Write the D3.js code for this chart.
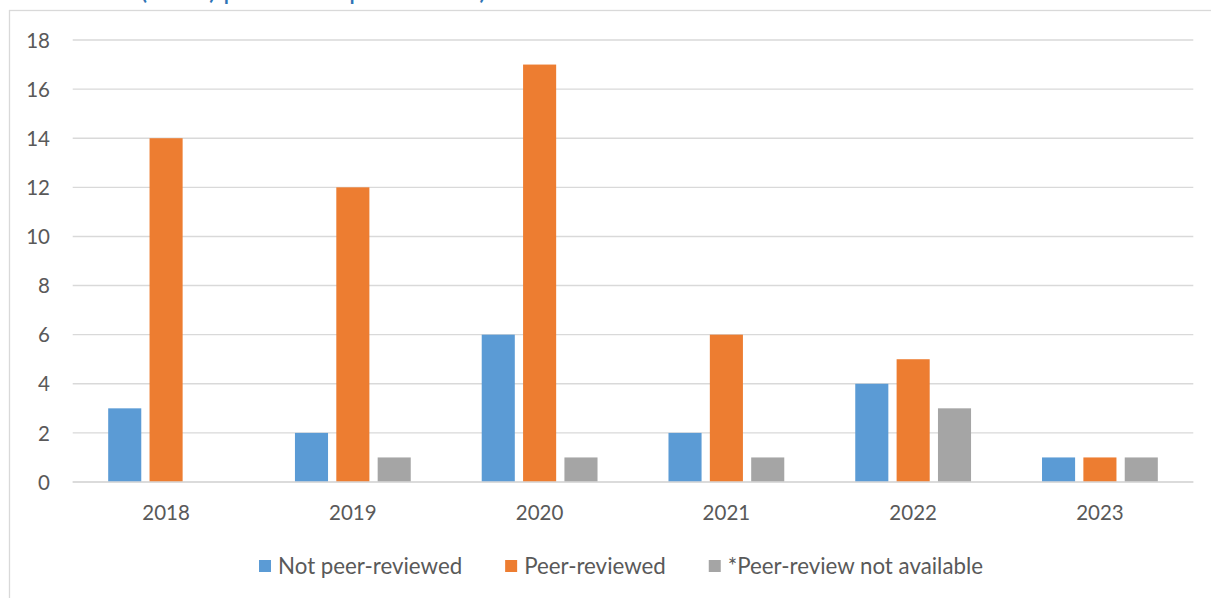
<!DOCTYPE html>
<html>
<head>
<meta charset="utf-8">
<script src="https://cdn.jsdelivr.net/npm/d3@7"></script>
<style>
  html, body { margin: 0; padding: 0; background: #fff; }
  svg { display: block; font-family: Lato, "Open Sans", sans-serif; }
</style>
</head>
<body>
<svg id="chart" width="1211" height="598"></svg>
<script>
// Publications per year, split by peer-review status
const years = ["2018", "2019", "2020", "2021", "2022", "2023"];
const seriesNames = ["Not peer-reviewed", "Peer-reviewed", "*Peer-review not available"];
const notPeerReviewed = [3, 2, 6, 2, 4, 1];
const peerReviewed = [14, 12, 17, 6, 5, 1];
const reviewNotAvailable = [0, 1, 1, 1, 3, 1];
const yTicks = [0, 2, 4, 6, 8, 10, 12, 14, 16, 18];
const colors = ["#5B9BD5", "#ED7D31", "#A5A5A5"];
const titleText = "Publications (n=80) per article peer status)";

const seriesValues = [notPeerReviewed, peerReviewed, reviewNotAvailable];
const rows = years.map((yr, i) => ({
  year: yr,
  values: seriesNames.map((s, k) => ({ series: s, value: seriesValues[k][i], k }))
}));

const svg = d3.select("#chart");
const textColor = "#595959";
const gridColor = "#D9D9D9";

// Title sits above the chart frame; only its descenders fall inside the view
const title = svg.append("text")
  .attr("y", -1)
  .attr("fill", "#2F74B5")
  .attr("font-size", 27)
  .text(titleText);
const openParen = titleText.indexOf("(");
const prefixW = title.node().getSubStringLength(0, openParen);
title.attr("x", 140 - prefixW);

// Chart frame
svg.append("rect")
  .attr("x", 9.5).attr("y", 10.5)
  .attr("width", 1400).attr("height", 800)
  .attr("fill", "none")
  .attr("stroke", gridColor)
  .attr("stroke-width", 1.3);

const plot = { left: 72.7, right: 1193.3, top: 40, bottom: 482 };

const y = d3.scaleLinear().domain([0, 18]).range([plot.bottom, plot.top]);
const x0 = d3.scaleBand().domain(years).range([plot.left, plot.right])
  .paddingInner(0.38).paddingOuter(0.19);
const x1 = d3.scaleBand().domain(seriesNames).range([0, x0.bandwidth()])
  .paddingInner(0.2).paddingOuter(0);

// Horizontal gridlines
svg.append("g").selectAll("line").data(yTicks).join("line")
  .attr("x1", plot.left).attr("x2", plot.right)
  .attr("y1", d => y(d)).attr("y2", d => y(d))
  .attr("stroke", gridColor).attr("stroke-width", 1.4);

// Y axis labels
const yAxis = d3.axisLeft(y).tickValues(yTicks).tickSize(0).tickPadding(0);
const yg = svg.append("g").attr("transform", `translate(50,0)`).call(yAxis);
yg.select(".domain").remove();
yg.selectAll("text").attr("fill", textColor).attr("font-size", 20.5)
  .attr("font-family", "Lato, sans-serif").attr("dy", "0.35em");

// Bars
const groups = svg.append("g").selectAll("g").data(rows).join("g")
  .attr("transform", d => `translate(${x0(d.year)},0)`);
groups.selectAll("rect").data(d => d.values.filter(v => v.value > 0)).join("rect")
  .attr("x", d => x1(d.series))
  .attr("width", x1.bandwidth())
  .attr("y", d => y(d.value))
  .attr("height", d => y(0) - y(d.value))
  .attr("fill", d => colors[d.k]);

// Redraw the zero line on top of the bars
svg.append("line")
  .attr("x1", plot.left).attr("x2", plot.right)
  .attr("y1", y(0)).attr("y2", y(0))
  .attr("stroke", gridColor).attr("stroke-width", 1.4);

// X axis labels
const xAxis = d3.axisBottom(x0).tickSize(0).tickPadding(0);
const xg = svg.append("g").attr("transform", `translate(0,520)`).call(xAxis);
xg.select(".domain").remove();
xg.selectAll("text").attr("fill", textColor).attr("font-size", 20.5)
  .attr("font-family", "Lato, sans-serif").attr("dy", 0)
  .attr("dominant-baseline", "alphabetic");

// Legend
const legend = svg.append("g");
const legendY = 566, sw = 12, textGap = 7, itemGap = 43;
const items = legend.selectAll("g").data(seriesNames).join("g");
items.append("rect")
  .attr("width", sw).attr("height", sw)
  .attr("y", legendY - sw / 2)
  .attr("fill", (d, i) => colors[i]);
items.append("text")
  .attr("x", sw + textGap).attr("y", legendY).attr("dy", "0.35em")
  .attr("fill", textColor).attr("font-size", 22.3)
  .text(d => d);
const widths = [];
items.each(function () {
  const w = sw + textGap + d3.select(this).select("text").node().getComputedTextLength();
  widths.push(w);
});
const total = d3.sum(widths) + itemGap * (widths.length - 1);
let startX = 621 - total / 2;
items.attr("transform", (d, i) => {
  const t = `translate(${startX},0)`;
  startX += widths[i] + itemGap;
  return t;
});
</script>
</body>
</html>
